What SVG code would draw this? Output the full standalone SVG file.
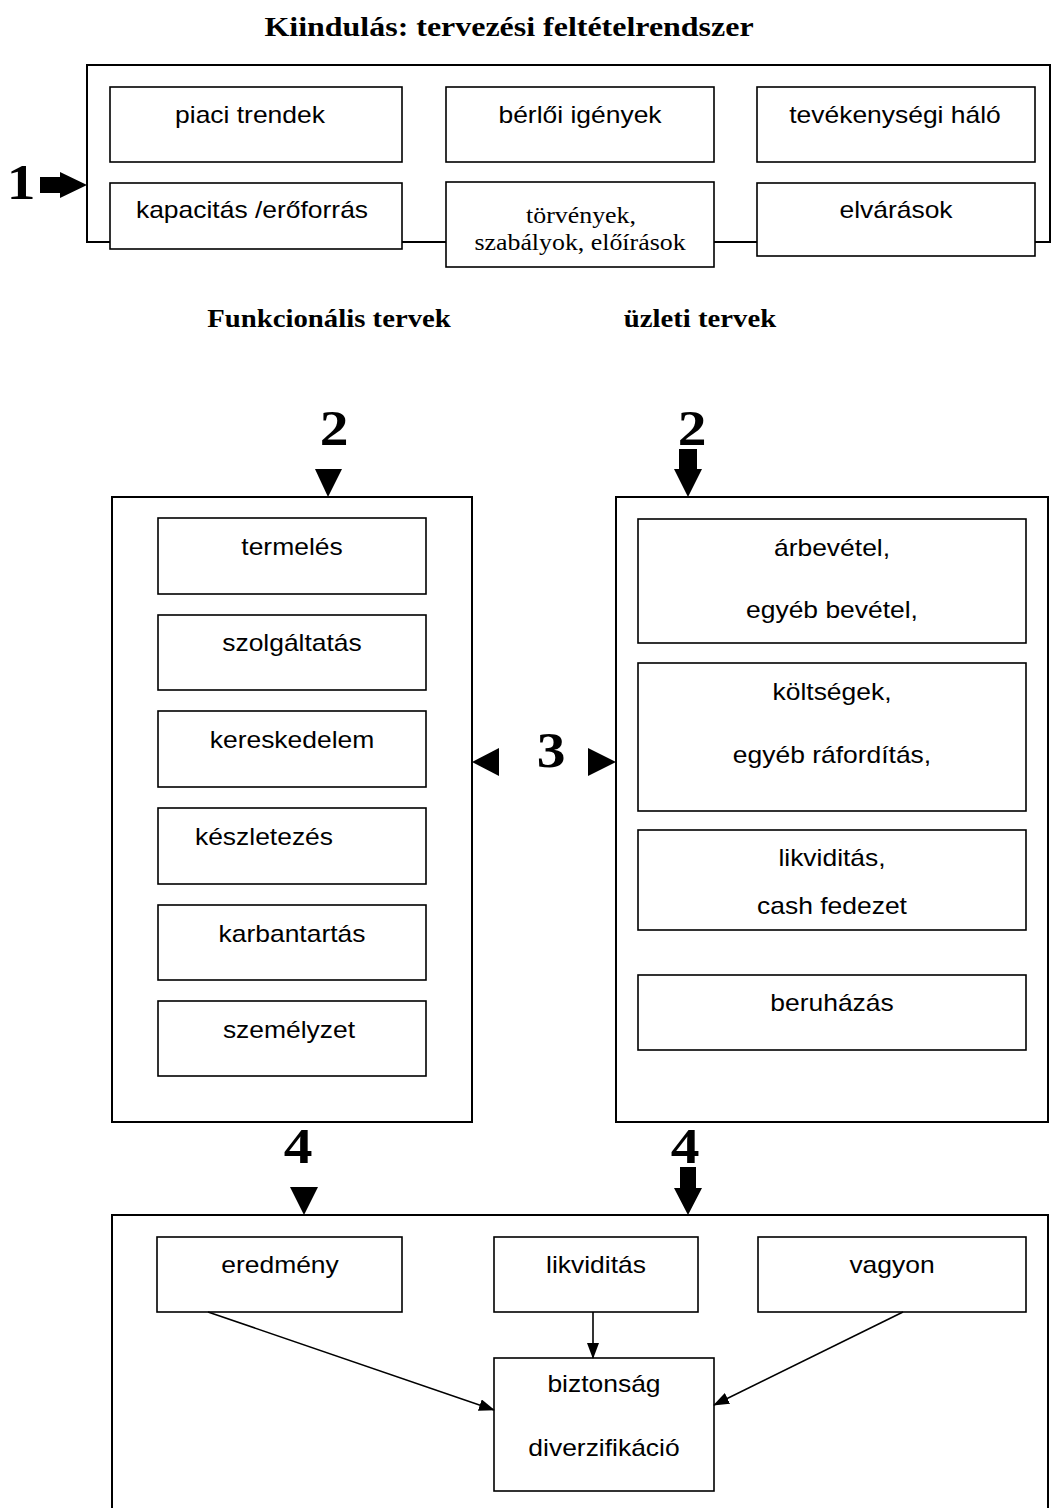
<svg xmlns="http://www.w3.org/2000/svg" width="1063" height="1508" viewBox="0 0 1063 1508">
<style>
.outer{fill:none;stroke:#000;stroke-width:2}
.box{fill:#fff;stroke:#000;stroke-width:1.6}
.s{font-family:"Liberation Sans",Arial,sans-serif;font-size:23px;text-anchor:middle;fill:#000}
.r{font-family:"Liberation Serif","Times New Roman",serif;font-size:22.5px;text-anchor:middle;fill:#000}
.h{font-family:"Liberation Serif","Times New Roman",serif;font-weight:bold;font-size:25px;text-anchor:middle;fill:#000}
.t{font-family:"Liberation Serif","Times New Roman",serif;font-weight:bold;font-size:27.8px;text-anchor:middle;fill:#000}
.n{font-family:"Liberation Serif","Times New Roman",serif;font-weight:bold;font-size:50px;text-anchor:middle;fill:#000}
.ln{stroke:#000;stroke-width:1.6;fill:none}
.ah{fill:#000}
</style>
<defs>
<marker id="arr" markerWidth="16" markerHeight="12" refX="15" refY="6" orient="auto" markerUnits="userSpaceOnUse">
<path d="M0,0 L16,6 L0,12 Z" fill="#000"/>
</marker>
</defs>
<rect width="1063" height="1508" fill="#fff"/>

<text class="t" transform="translate(509 36) scale(1.15 1)">Kiindulás: tervezési feltételrendszer</text>

<g id="frame-start"><rect class="outer" x="87" y="65" width="963" height="177"/></g>

<g id="n-piaci"><rect class="box" x="110" y="87" width="292" height="75"/><text class="s" transform="translate(250 123) scale(1.15 1)">piaci trendek</text></g>
<g id="n-berloi"><rect class="box" x="446" y="87" width="268" height="75"/><text class="s" transform="translate(580 123) scale(1.15 1)">bérlői igények</text></g>
<g id="n-tevekenysegi"><rect class="box" x="757" y="87" width="278" height="75"/><text class="s" transform="translate(895 123) scale(1.15 1)">tevékenységi háló</text></g>
<g id="n-kapacitas"><rect class="box" x="110" y="183" width="292" height="66"/><text class="s" transform="translate(252 218) scale(1.15 1)">kapacitás /erőforrás</text></g>
<g id="n-torvenyek"><rect class="box" x="446" y="182" width="268" height="85"/><text class="r" transform="translate(581 223) scale(1.15 1)">törvények,</text><text class="r" transform="translate(580 250) scale(1.15 1)">szabályok, előírások</text></g>
<g id="n-elvarasok"><rect class="box" x="757" y="183" width="278" height="73"/><text class="s" transform="translate(896 218) scale(1.15 1)">elvárások</text></g>

<text class="n" transform="translate(21 199) scale(1.15 1)">1</text>

<text class="h" transform="translate(329 327) scale(1.15 1)">Funkcionális tervek</text>
<text class="h" transform="translate(700 327) scale(1.15 1)">üzleti tervek</text>

<text class="n" transform="translate(334 445) scale(1.15 1)">2</text>
<text class="n" transform="translate(692 445) scale(1.15 1)">2</text>

<g id="frame-funk"><rect class="outer" x="112" y="497" width="360" height="625"/></g>
<g id="n-termeles"><rect class="box" x="158" y="518" width="268" height="76"/><text class="s" transform="translate(292 555) scale(1.15 1)">termelés</text></g>
<g id="n-szolgaltatas"><rect class="box" x="158" y="615" width="268" height="75"/><text class="s" transform="translate(292 651) scale(1.15 1)">szolgáltatás</text></g>
<g id="n-kereskedelem"><rect class="box" x="158" y="711" width="268" height="76"/><text class="s" transform="translate(292 748) scale(1.15 1)">kereskedelem</text></g>
<g id="n-keszletezes"><rect class="box" x="158" y="808" width="268" height="76"/><text class="s" transform="translate(264 845) scale(1.15 1)">készletezés</text></g>
<g id="n-karbantartas"><rect class="box" x="158" y="905" width="268" height="75"/><text class="s" transform="translate(292 942) scale(1.15 1)">karbantartás</text></g>
<g id="n-szemelyzet"><rect class="box" x="158" y="1001" width="268" height="75"/><text class="s" transform="translate(289 1038) scale(1.15 1)">személyzet</text></g>

<g id="frame-uzleti"><rect class="outer" x="616" y="497" width="432" height="625"/></g>
<g id="n-arbevetel"><rect class="box" x="638" y="519" width="388" height="124"/><text class="s" transform="translate(832 556) scale(1.15 1)">árbevétel,</text><text class="s" transform="translate(832 618) scale(1.15 1)">egyéb bevétel,</text></g>
<g id="n-koltsegek"><rect class="box" x="638" y="663" width="388" height="148"/><text class="s" transform="translate(832 700) scale(1.15 1)">költségek,</text><text class="s" transform="translate(832 763) scale(1.15 1)">egyéb ráfordítás,</text></g>
<g id="n-likviditas1"><rect class="box" x="638" y="830" width="388" height="100"/><text class="s" transform="translate(832 866) scale(1.15 1)">likviditás,</text><text class="s" transform="translate(832 914) scale(1.15 1)">cash fedezet</text></g>
<g id="n-beruhazas"><rect class="box" x="638" y="975" width="388" height="75"/><text class="s" transform="translate(832 1011) scale(1.15 1)">beruházás</text></g>

<text class="n" transform="translate(551 767) scale(1.15 1)">3</text>
<text class="n" transform="translate(298 1163) scale(1.15 1)">4</text>
<text class="n" transform="translate(685 1163) scale(1.15 1)">4</text>

<g id="frame-result"><path class="outer" d="M112,1508 V1215 H1048 V1508"/></g>
<g id="n-eredmeny"><rect class="box" x="157" y="1237" width="245" height="75"/><text class="s" transform="translate(280 1273) scale(1.15 1)">eredmény</text></g>
<g id="n-likviditas2"><rect class="box" x="494" y="1237" width="204" height="75"/><text class="s" transform="translate(596 1273) scale(1.15 1)">likviditás</text></g>
<g id="n-vagyon"><rect class="box" x="758" y="1237" width="268" height="75"/><text class="s" transform="translate(892 1273) scale(1.15 1)">vagyon</text></g>
<g id="n-biztonsag"><rect class="box" x="494" y="1358" width="220" height="133"/><text class="s" transform="translate(604 1392) scale(1.15 1)">biztonság</text><text class="s" transform="translate(604 1456) scale(1.15 1)">diverzifikáció</text></g>

<g id="connectors">
<path class="ah" d="M40,177 H60 V172 L87,185 L60,198 V193 H40 Z"/>
<path class="ah" d="M315,469 H342 L328,497 Z"/>
<path class="ah" d="M679,449 H697 V469 H702 L688,497 L674,469 H679 Z"/>
<path class="ah" d="M499,748 V776 L472,762 Z"/>
<path class="ah" d="M588,748 V776 L616,762 Z"/>
<path class="ah" d="M290,1187 H318 L304,1215 Z"/>
<path class="ah" d="M680,1167 H696 V1188 H702 L688,1215 L674,1188 H680 Z"/>
<line class="ln" x1="208" y1="1312" x2="494" y2="1410" marker-end="url(#arr)"/>
<line class="ln" x1="593" y1="1312" x2="593" y2="1358" marker-end="url(#arr)"/>
<line class="ln" x1="903" y1="1312" x2="714" y2="1405" marker-end="url(#arr)"/>
</g>
</svg>
